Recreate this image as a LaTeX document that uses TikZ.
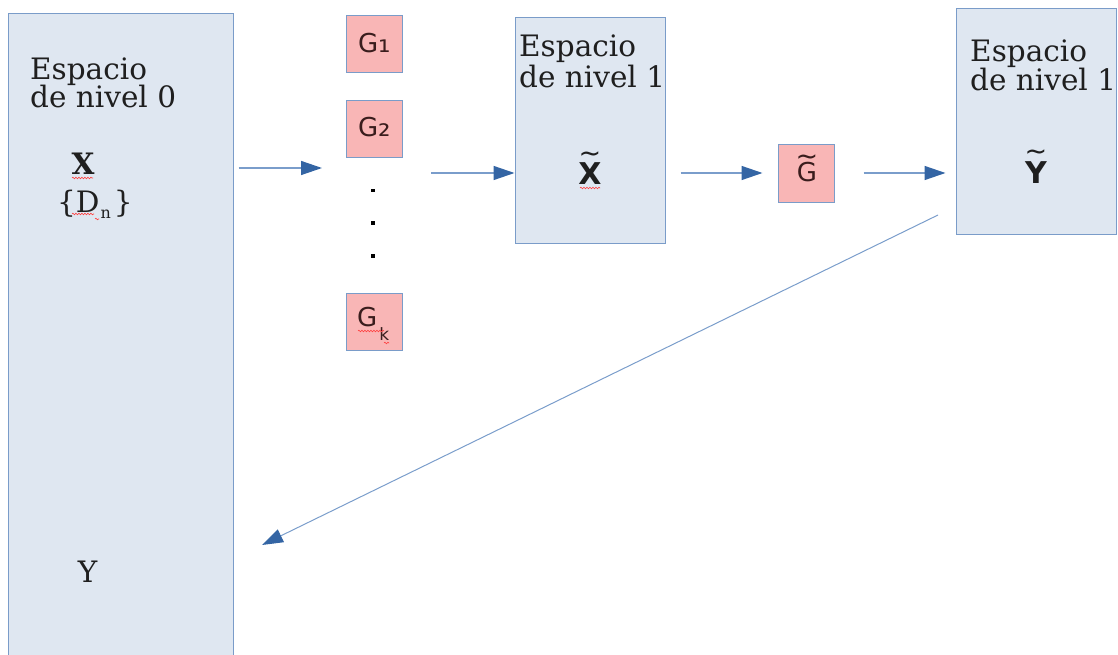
\documentclass[tikz,border=0pt]{standalone}
\usepackage{fontspec}
\setmainfont{DejaVu Serif}
\newfontfamily\sansf{DejaVu Sans}
\usetikzlibrary{arrows.meta,decorations.pathmorphing}
\definecolor{boxblue}{HTML}{DFE7F1}
\definecolor{edgeblue}{HTML}{7A9CC9}
\definecolor{linblue}{HTML}{7A9DCB}
\definecolor{tipblue}{HTML}{3465A4}
\definecolor{gpink}{HTML}{F9B6B6}
\definecolor{gink}{HTML}{3A1D1D}
% letter with a tilde set above it (one text)
\newcommand{\tildeover}[3]{\leavevmode\vbox{\offinterlineskip\halign{\hfil##\hfil\cr
  {\sansf\mdseries\fontsize{#1}{#1}\selectfont\textasciitilde}\cr\noalign{\kern#2}#3\cr}}}
\begin{document}
\begin{tikzpicture}[x=1pt,y=-1pt,
  spacebox/.style={draw=edgeblue, fill=boxblue, line width=1pt, inner sep=0pt},
  gbox/.style={draw=edgeblue, fill=gpink, line width=1pt, inner sep=0pt, minimum width=56pt, minimum height=57pt},
  serif/.style={inner sep=0pt, font=\fontsize{29.5}{29.5}\selectfont, text=black!88},
  bsans/.style={inner sep=0pt, anchor=base, font=\sansf\bfseries\fontsize{30}{30}\selectfont, text=black!88},
  gtext/.style={inner sep=0pt, font=\sansf\fontsize{26}{26}\selectfont, text=gink},
  dotn/.style={fill=black, minimum size=3.2pt, inner sep=0pt},
  arr/.style={draw=linblue, line width=1.4pt, -{Triangle[length=21pt,width=14pt,color=tipblue]}},
  spell/.style={draw=red!75, line width=0.6pt, decorate, decoration={snake, segment length=3pt, amplitude=0.8pt}}]
\useasboundingbox (0,0) rectangle (1118,655);
% boxes
\node[spacebox, minimum width=225pt, minimum height=680pt] (lvl0) at (120.5,354) {};
\node[gbox] (g1) at (374,44.5) {};
\node[gbox] (g2) at (374,129) {};
\node[gbox] (gk) at (374,321.5) {};
\node[spacebox, minimum width=150pt, minimum height=225pt] (lvl1) at (590,130.5) {};
\node[gbox] (gt) at (806,173.5) {};
\node[spacebox, minimum width=160pt, minimum height=225pt] (lvl1b) at (1036,121.5) {};
% dots
\node[dotn] (dot1) at (373,190.5) {};
\node[dotn] (dot2) at (373,223) {};
\node[dotn] (dot3) at (373,256) {};
% arrows
\coordinate (a1e) at (322,168);
\draw[arr, shorten <=5pt] (lvl0.east |- a1e) -- (a1e);
\coordinate (a2s) at (431,173);
\draw[arr] (a2s) -- (lvl1.west |- a2s);
\draw[arr, shorten <=15pt, shorten >=15pt] (lvl1.east |- a2s) -- (gt.west |- a2s);
\draw[arr, shorten <=29pt, shorten >=10pt] (gt.east |- a2s) -- (lvl1b.west |- a2s);
\coordinate (ds) at (938,215);
\coordinate (de) at (262,545);
\draw[arr, line width=1pt] (ds) -- (de);
% texts level 0
\node[serif, anchor=base west] (t0a) at (30,80) {Espacio};
\node[serif, anchor=base west] (t0b) at (30,108) {de nivel 0};
\node[serif, anchor=base] (x0) at (83,175) {\bfseries X};
\node[serif, anchor=base west] (dn) at (57,212) {\{D\kern1pt\raisebox{-6pt}{\fontsize{16}{16}\selectfont n}\kern3pt\}};
\node[serif, anchor=base] (y0) at (87.5,582) {Y};
% texts level 1
\node[serif, anchor=base west] (t1a) at (519,57) {Espacio};
\node[serif, anchor=base west] (t1b) at (519,88) {de nivel 1};
\node[bsans] (xt) at (590,185) {\tildeover{27}{1pt}{X}};
\node[serif, anchor=base west] (t2a) at (970,62) {Espacio};
\node[serif, anchor=base west] (t2b) at (970,91) {de nivel 1};
\node[bsans] (yt) at (1036,183) {\tildeover{27}{1pt}{Y}};
% G labels
\node[gtext, anchor=base] (gtt) at (807,182) {\tildeover{27}{-3pt}{G}};
\node[gtext, anchor=base west] (g1t) at (358,53) {G{\fontsize{31}{31}\selectfont ₁}};
\node[gtext, anchor=base west] (g2t) at (358,137) {G{\fontsize{31}{31}\selectfont ₂}};
\node[gtext, anchor=base west] (gkt) at (357,326) {G\kern2pt\raisebox{-14pt}{\fontsize{17}{17}\selectfont k}};
% spell-check marks
\draw[spell] (72,178) -- (93,178);
\draw[spell] (72,214) -- (94,214);
\draw[spell] (95,219) -- (99,219);
\draw[spell] (580,188) -- (600,188);
\draw[spell] (358,331) -- (384,331);
\draw[spell] (384,343) -- (389,343);
\end{tikzpicture}
\end{document}
